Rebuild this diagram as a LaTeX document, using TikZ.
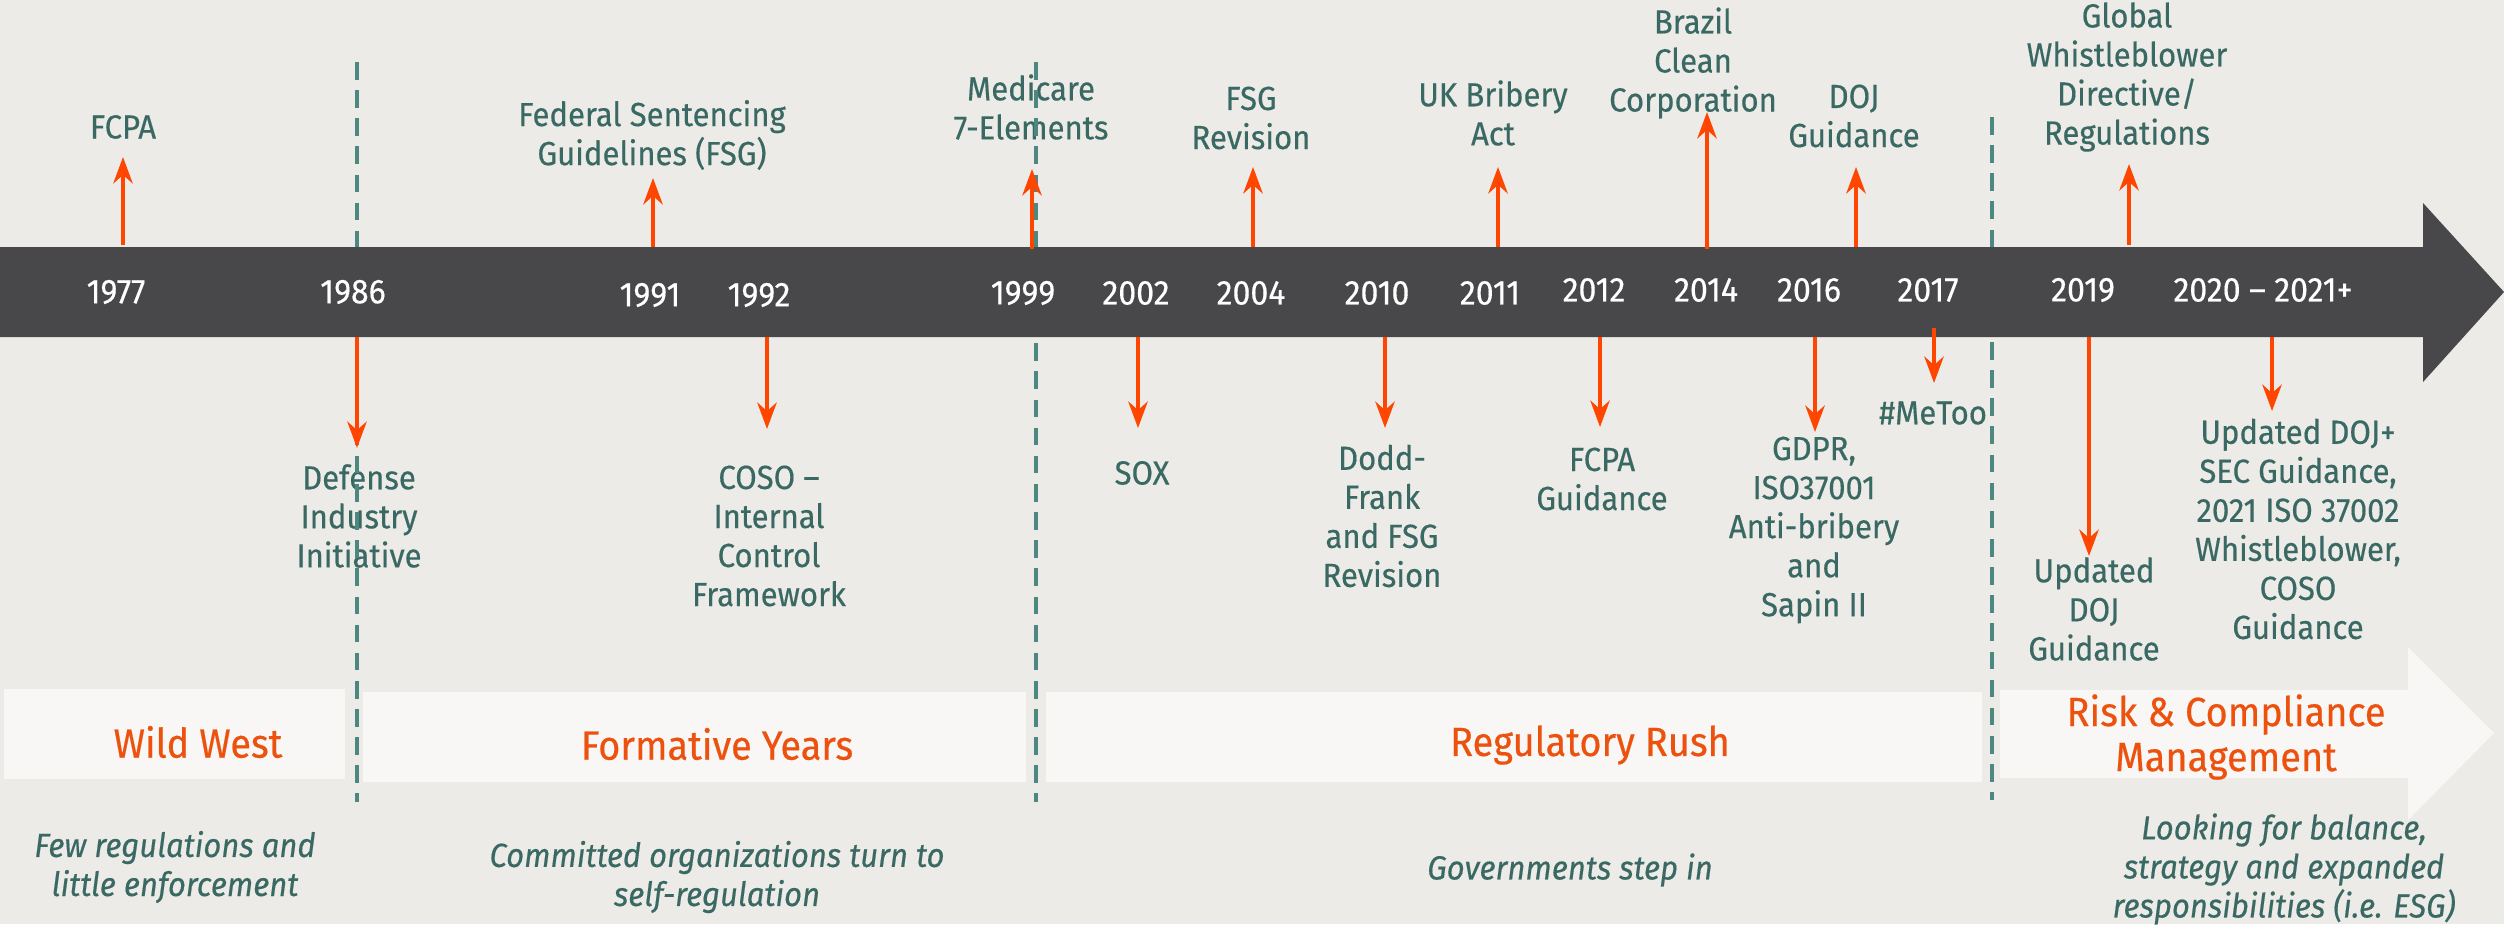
\documentclass[tikz,border=0pt]{standalone}
\usepackage{fontspec}
\setmainfont{Fira Sans}[FakeStretch=0.93, FakeBold=0.4]
\usepackage{xcolor}
\usepackage{tikz}
\usetikzlibrary{arrows.meta}

\definecolor{paper}{RGB}{237,235,231}
\definecolor{barcol}{RGB}{72,72,74}
\definecolor{tealtext}{RGB}{58,105,100}
\definecolor{tealdash}{RGB}{76,136,128}
\definecolor{hotorange}{RGB}{255,70,0}
\definecolor{phaseorange}{RGB}{236,82,14}
\definecolor{phasefill}{RGB}{248,247,245}

\begin{document}
\begin{tikzpicture}[
    x=0.01cm, y=-0.01cm,
    year/.style={text=white, font=\fontsize{9.8}{11}\selectfont, inner sep=0pt},
    event/.style={text=tealtext, font=\fontsize{9.5}{11.1}\selectfont, align=center, inner sep=0pt},
    stage/.style={text=phaseorange, font=\fontsize{11.6}{12.8}\selectfont, align=center, inner sep=0pt},
    caption/.style={text=tealtext, font=\itshape\fontsize{9.5}{11.1}\selectfont, align=center, inner sep=0pt},
    evarrow/.style={-{Stealth[length=7.5pt, width=5.5pt, inset=2.4pt]}, draw=hotorange, line width=1.15pt},
    divider/.style={draw=tealdash, line width=1pt, dash pattern=on 5pt off 3pt}
]
    % background
    \fill[paper] (0,0) rectangle (2504,924);
    \useasboundingbox (0,0) rectangle (2504,924);

    % === EVENTS ABOVE ===
    \node[event] (fcpa) at (123,127) {FCPA};
    \node[event] (fsg) at (652,135) {Federal Sentencing\\Guidelines (FSG)};
    \node[event] (medicare) at (1031,107) {Medicare\\7-Elements};
    \node[event] (fsgrev) at (1251,118) {FSG\\Revision};
    \node[event] (ukba) at (1493,113) {UK Bribery\\Act};
    \node[event] (brazil) at (1693,63) {Brazil\\Clean\\Corporation};
    \node[event] (dojg) at (1854,116) {DOJ\\Guidance};
    \node[event] (global) at (2127,77) {Global\\Whistleblower\\Directive/\\Regulations};

    % === EVENTS BELOW ===
    \node[event] (defense) at (359,516) {Defense\\Industry\\Initiative};
    \node[event] (coso) at (769,536) {COSO –\\Internal\\Control\\Framework};
    \node[event] (sox) at (1142,473) {SOX};
    \node[event] (dodd) at (1382,516) {Dodd-\\Frank\\and FSG\\Revision};
    \node[event] (fcpag) at (1602,479) {FCPA\\Guidance};
    \node[event] (gdpr) at (1814,530) {GDPR,\\ISO37001\\Anti-bribery\\and\\Sapin II};
    \node[event] (metoo) at (1933,413) {\#MeToo};
    \node[event] (updoj) at (2094,609) {Updated\\DOJ\\Guidance};
    \node[event] (updojsec) at (2298,529) {Updated DOJ+\\SEC Guidance,\\2021 ISO 37002\\Whistleblower,\\COSO\\Guidance};

    % Era dividers
    \draw[divider] (357,62) -- (357,802);
    \draw[divider] (1036,62) -- (1036,802);
    \draw[divider] (1992,117) -- (1992,800);

    % Timeline bar
    \fill[barcol] (0,247) -- (2423,247) -- (2423,203) -- (2504,292)
        -- (2423,382) -- (2423,337) -- (0,337) -- cycle;

    % Years
    \node[year] (y1977) at (116,292) {1977};
    \node[year] (y1986) at (353,292) {1986};
    \node[year] (y1991) at (650,295) {1991};
    \node[year] (y1992) at (759,295) {1992};
    \node[year] (y1999) at (1023,293) {1999};
    \node[year] (y2002) at (1136,293) {2002};
    \node[year] (y2004) at (1251,293) {2004};
    \node[year] (y2010) at (1377,293) {2010};
    \node[year] (y2011) at (1490,293) {2011};
    \node[year] (y2012) at (1594,290) {2012};
    \node[year] (y2014) at (1706,290) {2014};
    \node[year] (y2016) at (1809,290) {2016};
    \node[year] (y2017) at (1928,290) {2017};
    \node[year] (y2019) at (2083,290) {2019};
    \node[year] (y2020) at (2263,290) {2020 – 2021+};

    % Arrow ends
    \coordinate (fcpa-base) at (123,245);   \coordinate (fcpa-tip) at (123,157);
    \coordinate (fsg-base) at (653,247);    \coordinate (fsg-tip) at (653,178);
    \coordinate (medicare-base) at (1032,249); \coordinate (medicare-tip) at (1032,169);
    \coordinate (fsgrev-base) at (1253,247); \coordinate (fsgrev-tip) at (1253,167);
    \coordinate (ukba-base) at (1498,247);  \coordinate (ukba-tip) at (1498,167);
    \coordinate (brazil-base) at (1707,249); \coordinate (brazil-tip) at (1707,112);
    \coordinate (dojg-base) at (1856,247);  \coordinate (dojg-tip) at (1856,167);
    \coordinate (global-base) at (2129,245); \coordinate (global-tip) at (2129,164);
    \coordinate (defense-base) at (357,337); \coordinate (defense-tip) at (357,448);
    \coordinate (coso-base) at (767,337);   \coordinate (coso-tip) at (767,429);
    \coordinate (sox-base) at (1138,337);   \coordinate (sox-tip) at (1138,428);
    \coordinate (dodd-base) at (1385,337);  \coordinate (dodd-tip) at (1385,428);
    \coordinate (fcpag-base) at (1600,337); \coordinate (fcpag-tip) at (1600,427);
    \coordinate (gdpr-base) at (1815,337);  \coordinate (gdpr-tip) at (1815,432);
    \coordinate (metoo-base) at (1934,328); \coordinate (metoo-tip) at (1934,383);
    \coordinate (updoj-base) at (2089,337); \coordinate (updoj-tip) at (2089,556);
    \coordinate (updojsec-base) at (2272,337); \coordinate (updojsec-tip) at (2272,411);

    % Event arrows
    \draw[evarrow] (fcpa-base) -- (fcpa-tip);
    \draw[evarrow] (fsg-base) -- (fsg-tip);
    \draw[evarrow] (medicare-base) -- (medicare-tip);
    \draw[evarrow] (fsgrev-base) -- (fsgrev-tip);
    \draw[evarrow] (ukba-base) -- (ukba-tip);
    \draw[evarrow] (brazil-base) -- (brazil-tip);
    \draw[evarrow] (dojg-base) -- (dojg-tip);
    \draw[evarrow] (global-base) -- (global-tip);
    \draw[evarrow] (defense-base) -- (defense-tip);
    \draw[evarrow] (coso-base) -- (coso-tip);
    \draw[evarrow] (sox-base) -- (sox-tip);
    \draw[evarrow] (dodd-base) -- (dodd-tip);
    \draw[evarrow] (fcpag-base) -- (fcpag-tip);
    \draw[evarrow] (gdpr-base) -- (gdpr-tip);
    \draw[evarrow] (metoo-base) -- (metoo-tip);
    \draw[evarrow] (updoj-base) -- (updoj-tip);
    \draw[evarrow] (updojsec-base) -- (updojsec-tip);

    % === ERAS ===
    \fill[phasefill] (4,689) rectangle (345,779);
    \fill[phasefill] (363,692) rectangle (1026,782);
    \fill[phasefill] (1046,692) rectangle (1982,782);
    \fill[phasefill] (2000,690) -- (2408,690) -- (2408,647) -- (2494,733)
        -- (2408,820) -- (2408,778) -- (2000,778) -- cycle;

    \node[stage] (wildwest) at (198,742) {Wild West};
    \node[stage] (formative) at (717,744) {Formative Years};
    \node[stage] (rush) at (1590,745) {Regulatory Rush};
    \node[stage] (riskmgmt) at (2226,737) {Risk \& Compliance\\Management};

    % Era notes
    \node[caption] (wildnote) at (175,867) {Few regulations and\\little enforcement};
    \node[caption] (formnote) at (717,877) {Committed organizations turn to\\self-regulation};
    \node[caption] (rushnote) at (1570,870) {Governments step in};
    \node[caption] (risknote) at (2284,869) {Looking for balance,\\strategy and expanded\\responsibilities (i.e. ESG)};

\end{tikzpicture}
\end{document}
